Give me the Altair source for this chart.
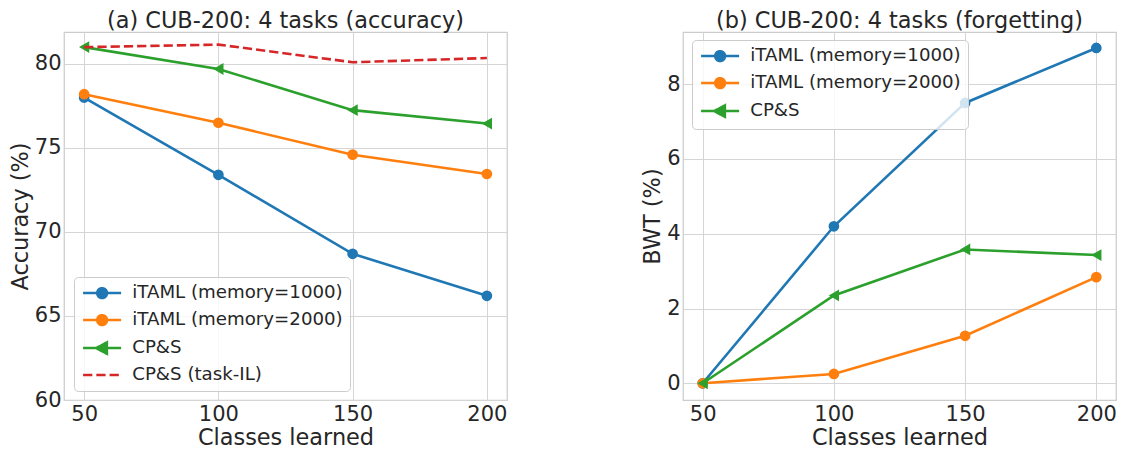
import altair as alt
import pandas as pd

classes = [50, 100, 150, 200]

acc_names = ["iTAML (memory=1000)", "iTAML (memory=2000)", "CP&S", "CP&S (task-IL)"]
acc_itaml_1000 = [78.0, 73.4, 68.7, 66.2]
acc_itaml_2000 = [78.2, 76.5, 74.6, 73.45]
acc_cps = [81.0, 79.7, 77.25, 76.45]
acc_cps_taskil = [81.0, 81.15, 80.1, 80.35]

bwt_names = ["iTAML (memory=1000)", "iTAML (memory=2000)", "CP&S"]
bwt_itaml_1000 = [0.0, 4.2, 7.5, 8.97]
bwt_itaml_2000 = [0.0, 0.25, 1.27, 2.84]
bwt_cps = [0.0, 2.35, 3.58, 3.43]

colors = ["#1f77b4", "#ff7f0e", "#2ca02c", "#d62728"]
markers = ["circle", "circle", "triangle-left", None]
dashes = [[1, 0], [1, 0], [1, 0], [9.25, 4]]

# legend symbol paths (unit = 6 px with symbolSize 144)
LINE = "M-3.17,0L3.17,0"
CIRC = LINE + "M0.82,0A0.82,0.82,0,1,1,-0.82,0A0.82,0.82,0,1,1,0.82,0Z"
TRI = LINE + "M-1.0,0L0.8,-0.95L0.8,0.95Z"
legend_paths = [CIRC, CIRC, TRI, LINE]

FONT = "DejaVu Sans"
TXT = "#262626"
X_DOMAIN = [42.5, 207.5]


def panel(names, values, y_domain, y_ticks, y_title, title, lx, ly, W, H):
    n = len(names)
    x = alt.X("classes:Q", scale=alt.Scale(domain=X_DOMAIN, nice=False, zero=False),
              axis=alt.Axis(values=classes, title="Classes learned"))
    y = alt.Y("value:Q", scale=alt.Scale(domain=y_domain, nice=False, zero=False),
              axis=alt.Axis(values=y_ticks, title=y_title))
    layers = []
    for i in range(n):
        d = pd.DataFrame({"classes": classes, "value": values[i], "series": names[i]})
        base = alt.Chart(d)
        if dashes[i] != [1, 0]:
            ln = base.mark_line(color=colors[i], strokeWidth=2.6, strokeDash=dashes[i])
        else:
            ln = base.mark_line(color=colors[i], strokeWidth=2.6)
        layers.append(ln.encode(x=x, y=y))
        if markers[i]:
            size = 115 if markers[i] == "circle" else 140
            layers.append(base.mark_point(shape=markers[i], filled=True, size=size,
                                          color=colors[i], opacity=1).encode(x=x, y=y))
    rows = []
    for i in range(n):
        rows.append({"classes": classes[0], "value": values[i][0], "series": names[i]})
    dl = pd.DataFrame(rows)
    leg = alt.Legend(title=None, orient="none", legendX=lx, legendY=ly,
                     symbolSize=144, symbolStrokeWidth=2.5, symbolOpacity=1,
                     symbolOffset=12,
                     labelFontSize=18.2, labelFont=FONT, labelColor=TXT, labelLimit=400,
                     labelOffset=21, rowPadding=6, padding=7,
                     fillColor="rgba(255,255,255,0.8)", strokeColor="#cccccc",
                     cornerRadius=4)
    dom = names
    legend_layer = alt.Chart(dl).mark_point(opacity=0).encode(
        x=x, y=y,
        fill=alt.Fill("series:N", scale=alt.Scale(domain=dom, range=colors[:n]), legend=leg),
        stroke=alt.Stroke("series:N", scale=alt.Scale(domain=dom, range=colors[:n]), legend=leg),
        shape=alt.Shape("series:N", scale=alt.Scale(domain=dom, range=legend_paths[:n]), legend=leg),
        strokeDash=alt.StrokeDash("series:N", scale=alt.Scale(domain=dom, range=dashes[:n]), legend=leg),
    )
    layers.append(legend_layer)
    return alt.layer(*layers).properties(
        width=W, height=H,
        title=alt.TitleParams(title, fontSize=22.4, font=FONT, color=TXT, fontWeight="normal",
                              anchor="middle", offset=0),
    )


pa = panel(acc_names, [acc_itaml_1000, acc_itaml_2000, acc_cps, acc_cps_taskil],
           [60, 81.9], [60, 65, 70, 75, 80], "Accuracy (%)",
           "(a) CUB-200: 4 tasks (accuracy)", 10, 245, 443, 368)
pb = panel(bwt_names, [bwt_itaml_1000, bwt_itaml_2000, bwt_cps],
           [-0.4475, 9.3975], [0, 2, 4, 6, 8], "BWT (%)",
           "(b) CUB-200: 4 tasks (forgetting)", 9, 8, 433, 368)

chart = alt.hconcat(pa, pb, spacing=133).resolve_scale(
    fill="independent", stroke="independent", shape="independent", strokeDash="independent"
).properties(
    padding={"left": 0, "top": 0, "right": 0, "bottom": 0},
    background="white",
).configure_view(
    stroke="#cccccc", strokeWidth=1.25
).configure_axis(
    domain=False, ticks=False, grid=True, gridColor="#d5d5d5", gridWidth=1,
    labelFont=FONT, labelFontSize=21, labelColor=TXT,
    titleFont=FONT, titleFontSize=22.4, titleColor=TXT, titleFontWeight="normal",
).configure_axisX(
    labelPadding=3, titlePadding=2
).configure_axisY(
    labelPadding=3, titlePadding=2
)

chart.save("out.html", embed_options={"renderer": "svg", "actions": False})
